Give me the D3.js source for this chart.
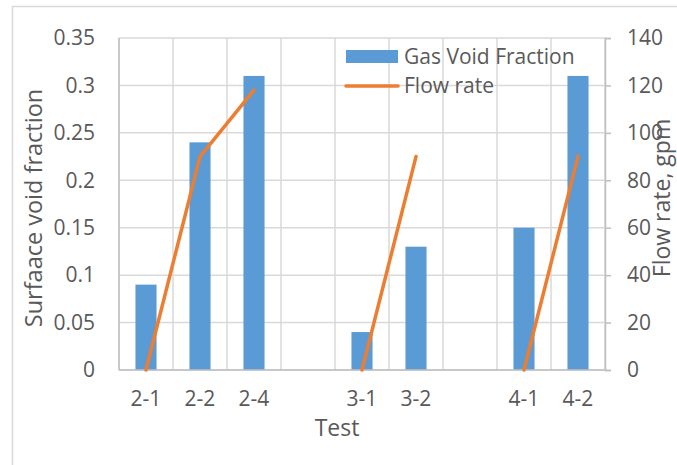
<!DOCTYPE html>
<html>
<head>
<meta charset="utf-8">
<script src="https://cdn.jsdelivr.net/npm/d3@7"></script>
<style>
  html, body { margin: 0; padding: 0; background: #fff; overflow: hidden; }
  svg { display: block; }
  text { font-family: "Open Sans", sans-serif; fill: #595959; }
</style>
</head>
<body>
<svg id="chart" width="677" height="465"></svg>
<script>
// Test labels (blank slots separate the test groups)
const categories = ["2-1", "2-2", "2-4", "", "3-1", "3-2", "", "4-1", "4-2"];
// Gas void fraction per test (left axis)
const voidFraction = [0.09, 0.24, 0.31, null, 0.04, 0.13, null, 0.15, 0.31];
// Flow rate per test, gpm (right axis)
const flowRate = [0, 90, 118, null, 0, 90, null, 0, 90];
const leftTicks = [0, 0.05, 0.1, 0.15, 0.2, 0.25, 0.3, 0.35];
const rightTicks = [0, 20, 40, 60, 80, 100, 120, 140];

const svg = d3.select("#chart");
const plot = { left: 119, right: 605, top: 38, bottom: 370 };

// outer chart frame (runs past the bottom and right edges)
svg.append("rect")
  .attr("x", 12.5).attr("y", 6.5)
  .attr("width", 700).attr("height", 480)
  .attr("fill", "none").attr("stroke", "#d9d9d9").attr("stroke-width", 1.5);

const x = d3.scaleBand()
  .domain(d3.range(categories.length))
  .range([plot.left, plot.right])
  .paddingInner(0).paddingOuter(0);

const yL = d3.scaleLinear().domain([0, 0.35]).range([plot.bottom, plot.top]);
const yR = d3.scaleLinear().domain([0, 140]).range([plot.bottom, plot.top]);

const grid = svg.append("g");
// horizontal gridlines
grid.selectAll("line.h").data(leftTicks).join("line")
  .attr("x1", plot.left).attr("x2", plot.right)
  .attr("y1", d => yL(d)).attr("y2", d => yL(d))
  .attr("stroke", "#d9d9d9").attr("stroke-width", 1.5);
// vertical gridlines at category boundaries
const bounds = d3.range(categories.length + 1).map(i =>
  i < categories.length ? x(i) : x(categories.length - 1) + x.bandwidth());
grid.selectAll("line.v").data(bounds).join("line")
  .attr("x1", d => d).attr("x2", d => d)
  .attr("y1", plot.top).attr("y2", plot.bottom)
  .attr("stroke", "#d9d9d9").attr("stroke-width", 1.5);

// bars
const barW = x.bandwidth() * 0.39;
svg.append("g").selectAll("rect")
  .data(voidFraction.map((v, i) => ({ v, i })).filter(d => d.v != null))
  .join("rect")
  .attr("x", d => x(d.i) + (x.bandwidth() - barW) / 2)
  .attr("width", barW)
  .attr("y", d => yL(d.v))
  .attr("height", d => yL(0) - yL(d.v))
  .attr("fill", "#5b9bd5");

// axis lines
const axisColor = "#bfbfbf";
svg.append("line")
  .attr("x1", plot.left).attr("x2", plot.right)
  .attr("y1", plot.bottom).attr("y2", plot.bottom)
  .attr("stroke", axisColor).attr("stroke-width", 1.5);
svg.append("line")
  .attr("x1", plot.left).attr("x2", plot.left)
  .attr("y1", plot.top).attr("y2", plot.bottom)
  .attr("stroke", axisColor).attr("stroke-width", 1.5);

// right axis with outward ticks
const rAxis = svg.append("g")
  .attr("transform", `translate(${plot.right},0)`)
  .call(d3.axisRight(yR).tickValues(rightTicks).tickSize(6).tickPadding(16)
    .tickFormat(d3.format("d")));
rAxis.select(".domain").attr("stroke", axisColor).attr("stroke-width", 1.5);
rAxis.selectAll(".tick line").attr("stroke", axisColor).attr("stroke-width", 1.5);
rAxis.selectAll(".tick text")
  .style("font-family", "Open Sans, sans-serif").style("font-size", "21px")
  .attr("fill", "#595959");

// left axis labels
const lAxis = svg.append("g")
  .attr("transform", `translate(${plot.left},0)`)
  .call(d3.axisLeft(yL).tickValues(leftTicks).tickSize(0).tickPadding(24)
    .tickFormat(d => d3.format("")(+d.toFixed(2))));
lAxis.select(".domain").remove();
lAxis.selectAll(".tick text")
  .style("font-family", "Open Sans, sans-serif").style("font-size", "21px")
  .attr("fill", "#595959");

// category labels
const bAxis = svg.append("g")
  .attr("transform", `translate(0,${plot.bottom})`)
  .call(d3.axisBottom(x).tickSize(0).tickPadding(21).tickFormat(i => categories[i]));
bAxis.select(".domain").remove();
bAxis.selectAll(".tick text")
  .style("font-family", "Open Sans, sans-serif").style("font-size", "21px")
  .attr("fill", "#595959");

// flow rate line, broken at blank slots
const line = d3.line()
  .defined(d => d.v != null)
  .x(d => x(d.i) + x.bandwidth() / 2)
  .y(d => yR(d.v));
svg.append("path")
  .datum(flowRate.map((v, i) => ({ v, i })))
  .attr("d", line)
  .attr("fill", "none").attr("stroke", "#ed7d31")
  .attr("stroke-width", 3.5).attr("stroke-linecap", "round").attr("stroke-linejoin", "round");

// axis titles
svg.append("text")
  .attr("x", (plot.left + plot.right) / 2 - 25).attr("y", 436)
  .attr("text-anchor", "middle")
  .style("font-size", "23px").text("Test");
svg.append("text")
  .attr("transform", "translate(42,208) rotate(-90)")
  .attr("text-anchor", "middle")
  .style("font-size", "23.5px").text("Surfaace void fraction");
svg.append("text")
  .attr("transform", "translate(670,198) rotate(-90)")
  .attr("text-anchor", "middle")
  .style("font-size", "23px").text("Flow rate, gpm");

// legend
const lg = svg.append("g");
lg.append("rect").attr("x", 346).attr("y", 50).attr("width", 52).attr("height", 13)
  .attr("fill", "#5b9bd5");
lg.append("text").attr("x", 404).attr("y", 64).style("font-size", "21px")
  .text("Gas Void Fraction");
lg.append("line").attr("x1", 346).attr("x2", 398).attr("y1", 86).attr("y2", 86)
  .attr("stroke", "#ed7d31").attr("stroke-width", 3.5).attr("stroke-linecap", "round");
lg.append("text").attr("x", 404).attr("y", 93).style("font-size", "21px")
  .text("Flow rate");
</script>
</body>
</html>
